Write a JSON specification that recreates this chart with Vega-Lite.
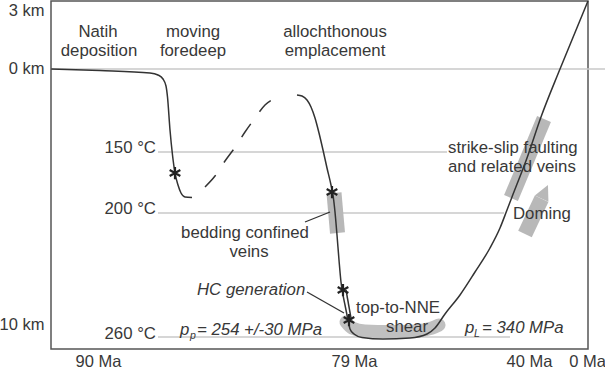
{
  "$schema": "https://vega.github.io/schema/vega-lite/v6.json",
  "width": 537,
  "height": 348,
  "autosize": {"type": "none"},
  "padding": {"left": 51, "top": 1, "right": 17, "bottom": 24},
  "background": "white",
  "config": {
    "view": {"stroke": "#555", "strokeWidth": 1.5},
    "text": {"font": "Liberation Sans", "fontSize": 16.8, "fill": "#383838"}
  },
  "datasets": {
    "grid": [
      {"id": "g0", "x": 0, "y": 0}, {"id": "g0", "x": 554, "y": 0},
      {"id": "g150", "x": 107, "y": 3.242}, {"id": "g150", "x": 396, "y": 3.242},
      {"id": "g200", "x": 107, "y": 5.625}, {"id": "g200", "x": 453, "y": 5.625},
      {"id": "g260", "x": 107, "y": 10.469}, {"id": "g260", "x": 459, "y": 10.469}
    ],
    "bars": [
      {"id": "bed", "x": 283, "y": 4.844}, {"id": "bed", "x": 286.5, "y": 6.406},
      {"id": "ss", "x": 460, "y": 5.039}, {"id": "ss", "x": 493, "y": 1.953},
      {"id": "arrow", "x": 474, "y": 6.445}, {"id": "arrow", "x": 490.6, "y": 5.066}
    ],
    "shear": [
      {"x": 295, "y": 9.883}, {"x": 301, "y": 10.117}, {"x": 314, "y": 10.234},
      {"x": 339, "y": 10.254}, {"x": 364, "y": 10.234}, {"x": 381, "y": 10.117}, {"x": 388, "y": 10.0}
    ],
    "head": [{"x": 493.8, "y": 4.801}],
    "path": [
      {"id": "a", "x": 0, "y": 0}, {"id": "a", "x": 49, "y": 0.059}, {"id": "a", "x": 99, "y": 0.156},
      {"id": "a", "x": 107, "y": 0.234}, {"id": "a", "x": 112, "y": 0.391}, {"id": "a", "x": 115, "y": 0.664},
      {"id": "a", "x": 116.5, "y": 1.094}, {"id": "a", "x": 119, "y": 2.383}, {"id": "a", "x": 121.5, "y": 3.359},
      {"id": "a", "x": 124, "y": 4.063}, {"id": "a", "x": 127, "y": 4.531}, {"id": "a", "x": 130, "y": 4.844},
      {"id": "a", "x": 134, "y": 5.0}, {"id": "a", "x": 141, "y": 5.02},
      {"id": "b", "x": 246, "y": 1.016}, {"id": "b", "x": 251, "y": 1.055}, {"id": "b", "x": 256, "y": 1.211},
      {"id": "b", "x": 260, "y": 1.484}, {"id": "b", "x": 264, "y": 1.914}, {"id": "b", "x": 268, "y": 2.5},
      {"id": "b", "x": 272, "y": 3.164}, {"id": "b", "x": 276, "y": 3.867}, {"id": "b", "x": 280, "y": 4.531},
      {"id": "b", "x": 282, "y": 4.922}, {"id": "b", "x": 284, "y": 5.586}, {"id": "b", "x": 286, "y": 6.484},
      {"id": "b", "x": 288, "y": 7.461}, {"id": "b", "x": 290, "y": 8.32}, {"id": "b", "x": 292, "y": 8.828},
      {"id": "b", "x": 294, "y": 9.219}, {"id": "b", "x": 296, "y": 9.609}, {"id": "b", "x": 297.5, "y": 9.883},
      {"id": "b", "x": 299, "y": 10.156}, {"id": "b", "x": 303, "y": 10.352}, {"id": "b", "x": 311, "y": 10.488},
      {"id": "b", "x": 332, "y": 10.547}, {"id": "b", "x": 359, "y": 10.508}, {"id": "b", "x": 376, "y": 10.352},
      {"id": "b", "x": 384, "y": 10.117}, {"id": "b", "x": 394, "y": 9.57}, {"id": "b", "x": 409, "y": 8.828},
      {"id": "b", "x": 424, "y": 7.93}, {"id": "b", "x": 439, "y": 6.992}, {"id": "b", "x": 449, "y": 6.211},
      {"id": "b", "x": 456, "y": 5.508}, {"id": "b", "x": 461, "y": 5.0}, {"id": "b", "x": 476, "y": 3.477},
      {"id": "b", "x": 490, "y": 1.875}, {"id": "b", "x": 509, "y": 0}, {"id": "b", "x": 537, "y": -2.656},
      {"id": "c", "x": 295, "y": 8.633}, {"id": "c", "x": 300, "y": 9.727}
    ],
    "dashed": [
      {"x": 154, "y": 4.609}, {"x": 164, "y": 4.18}, {"x": 174, "y": 3.594}, {"x": 185, "y": 3.008},
      {"x": 194, "y": 2.461}, {"x": 204, "y": 1.914}, {"x": 214, "y": 1.406}, {"x": 228, "y": 1.094}
    ],
    "leaders": [
      {"id": "l1", "x": 254, "y": 5.977}, {"id": "l1", "x": 279, "y": 5.586},
      {"id": "l2", "x": 256, "y": 8.711}, {"id": "l2", "x": 293, "y": 9.531}
    ],
    "stars": [
      {"x": 124, "y": 4.063}, {"x": 281, "y": 4.805}, {"x": 292, "y": 8.633}, {"x": 298, "y": 9.805}
    ],
    "tcenter": [
      {"t": "Natih", "x": 47, "y": -1.25}, {"t": "deposition", "x": 48, "y": -0.508},
      {"t": "moving", "x": 142, "y": -1.25}, {"t": "foredeep", "x": 142, "y": -0.508},
      {"t": "allochthonous", "x": 284, "y": -1.25}, {"t": "emplacement", "x": 284, "y": -0.508},
      {"t": "bedding confined", "x": 194, "y": 6.602}, {"t": "veins", "x": 198, "y": 7.344},
      {"t": "top-to-NNE", "x": 347, "y": 9.531}, {"t": "shear", "x": 356, "y": 10.273}
    ],
    "tleft": [
      {"t": "strike-slip faulting", "x": 397, "y": 3.281},
      {"t": "and related veins", "x": 397, "y": 4.023},
      {"t": "Doming", "x": 462, "y": 5.859}
    ],
    "tright": [
      {"t": "150 °C", "x": 105, "y": 3.281},
      {"t": "200 °C", "x": 105, "y": 5.664},
      {"t": "260 °C", "x": 105, "y": 10.547}
    ],
    "titalic": [
      {"t": "HC generation", "x": 146, "y": 8.828},
      {"t": "p", "x": 129, "y": 10.39},
      {"t": "= 254 +/-30 MPa", "x": 146, "y": 10.39},
      {"t": "p", "x": 414, "y": 10.293},
      {"t": "= 340 MPa", "x": 431, "y": 10.293}
    ],
    "tsub": [
      {"t": "p", "x": 139, "y": 10.547},
      {"t": "L", "x": 423, "y": 10.469}
    ]
  },
  "encoding": {
    "x": {
      "field": "x", "type": "quantitative",
      "scale": {"domain": [0, 537], "nice": false, "zero": false},
      "axis": {
        "values": [47, 303, 478, 536],
        "labelExpr": "datum.value == 47 ? '90 Ma' : datum.value == 303 ? '79 Ma' : datum.value == 478 ? '40 Ma' : '0 Ma'",
        "title": null, "grid": false, "ticks": false, "domain": false,
        "labelFont": "Liberation Sans", "labelFontSize": 16.5, "labelColor": "#383838",
        "labelPadding": 4, "labelFlush": false, "labelOverlap": false
      }
    },
    "y": {
      "field": "y", "type": "quantitative",
      "scale": {"domain": [-2.656, 10.9375], "nice": false, "zero": false, "reverse": true},
      "axis": {
        "values": [-2.266, 0, 10],
        "labelExpr": "datum.value < -1 ? '3 km' : datum.value == 0 ? '0 km' : '10 km'",
        "title": null, "grid": false, "ticks": false, "domain": false,
        "labelFont": "Liberation Sans", "labelFontSize": 16.5, "labelColor": "#383838",
        "labelPadding": 7, "labelFlush": false, "labelOverlap": false
      }
    }
  },
  "layer": [
    {
      "data": {"name": "grid"},
      "mark": {"type": "line", "color": "#c8c8c8", "strokeWidth": 1.5},
      "encoding": {"detail": {"field": "id"}}
    },
    {
      "data": {"name": "bars"},
      "mark": {"type": "line", "color": "#b8b8b8", "strokeWidth": 15, "strokeCap": "butt"},
      "encoding": {
        "detail": {"field": "id"},
        "strokeWidth": {"field": "id", "type": "nominal", "scale": {"domain": ["bed", "ss", "arrow"], "range": [16, 15, 8]}, "legend": null}
      }
    },
    {
      "data": {"name": "shear"},
      "mark": {"type": "line", "color": "#c0c0c0", "strokeWidth": 13, "strokeCap": "round", "interpolate": "monotone"},
      "encoding": {}
    },
    {
      "data": {"name": "head"},
      "mark": {"type": "point", "shape": "M0,-1L1,1L-1,1Z", "size": 225, "filled": true, "color": "#b8b8b8", "opacity": 1, "angle": 25},
      "encoding": {}
    },
    {
      "data": {"name": "path"},
      "mark": {"type": "line", "color": "#333", "strokeWidth": 1.5, "interpolate": "monotone"},
      "encoding": {"detail": {"field": "id"}}
    },
    {
      "data": {"name": "dashed"},
      "mark": {"type": "line", "color": "#333", "strokeWidth": 1.5, "strokeDash": [16, 15], "interpolate": "monotone"},
      "encoding": {}
    },
    {
      "data": {"name": "leaders"},
      "mark": {"type": "line", "color": "#333", "strokeWidth": 1.3},
      "encoding": {"detail": {"field": "id"}}
    },
    {
      "data": {"name": "stars"},
      "mark": {"type": "point", "shape": "M0,-1L0,1M-0.87,-0.5L0.87,0.5M-0.87,0.5L0.87,-0.5", "size": 150, "filled": false, "stroke": "#222", "strokeWidth": 2.2, "opacity": 1},
      "encoding": {}
    },
    {
      "data": {"name": "tcenter"},
      "mark": {"type": "text", "align": "center", "baseline": "alphabetic"},
      "encoding": {"text": {"field": "t"}}
    },
    {
      "data": {"name": "tleft"},
      "mark": {"type": "text", "align": "left", "baseline": "alphabetic"},
      "encoding": {"text": {"field": "t"}}
    },
    {
      "data": {"name": "tright"},
      "mark": {"type": "text", "align": "right", "baseline": "alphabetic"},
      "encoding": {"text": {"field": "t"}}
    },
    {
      "data": {"name": "titalic"},
      "mark": {"type": "text", "align": "left", "baseline": "alphabetic", "fontStyle": "italic"},
      "encoding": {"text": {"field": "t"}}
    },
    {
      "data": {"name": "tsub"},
      "mark": {"type": "text", "align": "left", "baseline": "alphabetic", "fontStyle": "italic", "fontSize": 10.5},
      "encoding": {"text": {"field": "t"}}
    }
  ]
}
